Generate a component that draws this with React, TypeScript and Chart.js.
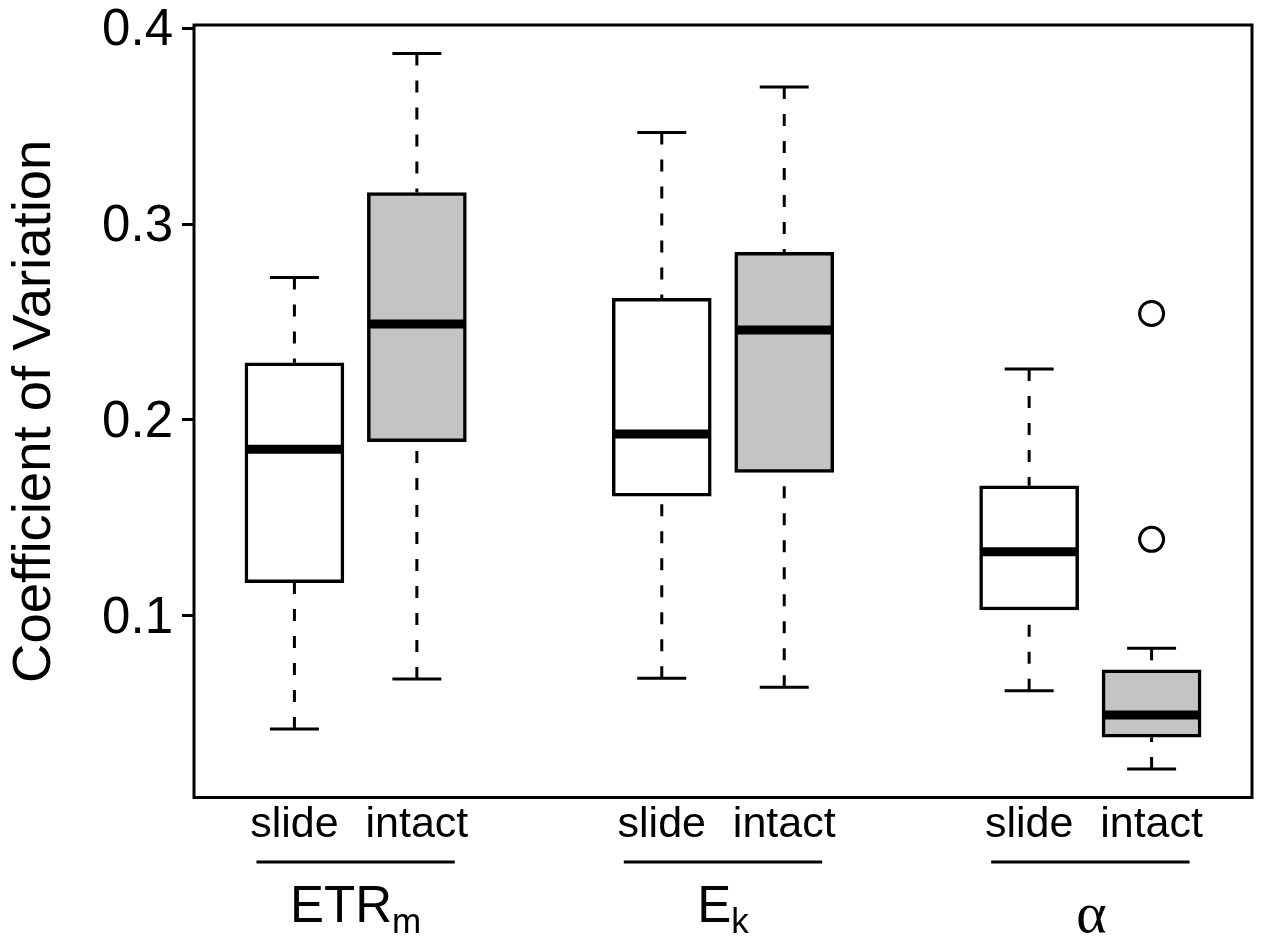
import React, { useEffect, useRef } from "react";
import { Chart, registerables } from "chart.js";

Chart.register(...registerables);

// ---- data ----
const treatments = ["slide", "intact", "slide", "intact", "slide", "intact"];
const positions = [1, 2, 4, 5, 7, 8];
const boxFills = ["#ffffff", "#c4c4c4", "#ffffff", "#c4c4c4", "#ffffff", "#c4c4c4"];
const whiskerLow = [0.042, 0.0676, 0.0679, 0.0633, 0.0616, 0.0216];
const q1 = [0.1168, 0.1888, 0.161, 0.1731, 0.1028, 0.0378];
const medians = [0.1849, 0.2489, 0.1927, 0.2458, 0.1326, 0.0492];
const q3 = [0.2291, 0.3161, 0.262, 0.2855, 0.1663, 0.0722];
const whiskerHigh = [0.2727, 0.3871, 0.3468, 0.37, 0.2259, 0.0832];
const outlierX = [8, 8];
const outlierY = [0.2543, 0.1389];
const groupMain = ["ETR", "E", "α"];
const groupSub = ["m", "k", ""];
const yTicks = [0.1, 0.2, 0.3, 0.4];
const yTitle = "Coefficient of Variation";

const SANS = '"Liberation Sans", Arial, Helvetica, sans-serif';
const SERIF = '"Liberation Serif", "Times New Roman", serif';

const boxExtras = {
  id: "boxExtras",
  beforeDatasetsDraw(chart: any) {
    const { ctx, scales } = chart;
    const xs = scales.x;
    const ys = scales.y;
    const unit = xs.getPixelForValue(1) - xs.getPixelForValue(0);
    const capHalf = unit * 0.2;
    ctx.save();
    ctx.strokeStyle = "#000";
    ctx.lineWidth = 3;
    ctx.lineCap = "butt";
    for (let i = 0; i < positions.length; i++) {
      const x = xs.getPixelForValue(positions[i]);
      const yl = ys.getPixelForValue(whiskerLow[i]);
      const yq1 = ys.getPixelForValue(q1[i]);
      const yq3 = ys.getPixelForValue(q3[i]);
      const yh = ys.getPixelForValue(whiskerHigh[i]);
      ctx.setLineDash([12, 15]);
      ctx.beginPath();
      ctx.moveTo(x, yh);
      ctx.lineTo(x, yq3);
      ctx.stroke();
      ctx.beginPath();
      ctx.moveTo(x, yl);
      ctx.lineTo(x, yq1);
      ctx.stroke();
      ctx.setLineDash([]);
      ctx.beginPath();
      ctx.moveTo(x - capHalf, yh);
      ctx.lineTo(x + capHalf, yh);
      ctx.moveTo(x - capHalf, yl);
      ctx.lineTo(x + capHalf, yl);
      ctx.stroke();
    }
    ctx.restore();
  },
  afterDatasetsDraw(chart: any) {
    const { ctx, scales } = chart;
    const xs = scales.x;
    const ys = scales.y;
    const unit = xs.getPixelForValue(1) - xs.getPixelForValue(0);
    const half = unit * 0.4;
    ctx.save();
    ctx.strokeStyle = "#000";
    ctx.lineWidth = 9;
    ctx.lineCap = "butt";
    for (let i = 0; i < positions.length; i++) {
      const x = xs.getPixelForValue(positions[i]);
      const ym = ys.getPixelForValue(medians[i]);
      ctx.beginPath();
      ctx.moveTo(x - half + 1.5, ym);
      ctx.lineTo(x + half - 1.5, ym);
      ctx.stroke();
    }
    ctx.restore();
  },
  afterDraw(chart: any) {
    const { ctx, scales, chartArea } = chart;
    const xs = scales.x;
    const unit = xs.getPixelForValue(1) - xs.getPixelForValue(0);
    ctx.save();
    // plot frame
    ctx.strokeStyle = "#000";
    ctx.lineWidth = 3;
    ctx.strokeRect(chartArea.left, chartArea.top, chartArea.right - chartArea.left, chartArea.bottom - chartArea.top);

    // y title
    ctx.fillStyle = "#000";
    ctx.save();
    ctx.translate(50, (chartArea.top + chartArea.bottom) / 2);
    ctx.rotate(-Math.PI / 2);
    ctx.font = `54.5px ${SANS}`;
    ctx.textAlign = "center";
    ctx.textBaseline = "alphabetic";
    ctx.fillText(yTitle, 0, 0);
    ctx.restore();

    // treatment labels
    ctx.font = `43px ${SANS}`;
    ctx.textAlign = "center";
    ctx.textBaseline = "alphabetic";
    for (let i = 0; i < positions.length; i++) {
      ctx.fillText(treatments[i], xs.getPixelForValue(positions[i]), 837);
    }

    // group underlines & labels
    for (let g = 0; g < groupMain.length; g++) {
      const c = (xs.getPixelForValue(positions[2 * g]) + xs.getPixelForValue(positions[2 * g + 1])) / 2;
      const hl = unit * 0.81;
      ctx.beginPath();
      ctx.moveTo(c - hl, 862);
      ctx.lineTo(c + hl, 862);
      ctx.stroke();

      ctx.textAlign = "left";
      if (groupSub[g]) {
        const mainFont = `51px ${SANS}`;
        const subFont = `35px ${SANS}`;
        ctx.font = mainFont;
        const wm = ctx.measureText(groupMain[g]).width;
        ctx.font = subFont;
        const ws = ctx.measureText(groupSub[g]).width;
        const start = c - (wm + ws) / 2;
        ctx.font = mainFont;
        ctx.fillText(groupMain[g], start, 922);
        ctx.font = subFont;
        ctx.fillText(groupSub[g], start + wm, 933);
      } else {
        ctx.font = `58px ${SERIF}`;
        ctx.textAlign = "center";
        ctx.fillText(groupMain[g], c + 1, 932);
      }
    }
    ctx.restore();
  },
};

export default function App() {
  const ref = useRef<HTMLCanvasElement | null>(null);
  useEffect(() => {
    if (!ref.current) return;
    const chart = new Chart(ref.current, {
      type: "bar",
      data: {
        datasets: [
          {
            type: "bar",
            data: positions.map((p, i) => ({ x: p, y: [q1[i], q3[i]] })) as any,
            backgroundColor: boxFills,
            borderColor: "#000",
            borderWidth: 3.5,
            borderSkipped: false,
            barThickness: 99,
          } as any,
          {
            type: "scatter",
            data: outlierX.map((x, i) => ({ x, y: outlierY[i] })),
            pointStyle: "circle",
            pointRadius: 12,
            pointBorderWidth: 3,
            pointBorderColor: "#000",
            pointBackgroundColor: "rgba(0,0,0,0)",
            showLine: false,
          } as any,
        ],
      },
      options: {
        animation: false,
        responsive: false,
        maintainAspectRatio: false,
        events: [],
        layout: { autoPadding: false, padding: { left: 0, top: 25, right: 10, bottom: 144.5 } },
        plugins: { legend: { display: false }, tooltip: { enabled: false } },
        scales: {
          x: {
            type: "linear",
            min: 0.18,
            max: 8.82,
            offset: false,
            display: false,
          },
          y: {
            type: "linear",
            min: 0.007,
            max: 0.4017,
            border: { display: false },
            grid: {
              drawOnChartArea: false,
              drawTicks: true,
              tickLength: 12,
              lineWidth: 3,
              color: "#000",
            },
            ticks: {
              color: "#000",
              font: { family: SANS, size: 51 },
              padding: 9,
              labelOffset: 3,
              callback: (v: any) => Number(v).toFixed(1),
            },
            afterBuildTicks: (scale: any) => {
              scale.ticks = yTicks.map((v) => ({ value: v }));
            },
            afterFit: (scale: any) => {
              scale.width = 194;
              scale.paddingTop = 0;
              scale.paddingBottom = 0;
            },
          },
        },
      },
      plugins: [boxExtras],
    } as any);
    return () => chart.destroy();
  }, []);
  return (
    <div style={{ position: "fixed", left: 0, top: 0, width: 1262, height: 942, background: "#fff" }}>
      <canvas ref={ref} width={1262} height={942} style={{ display: "block" }} />
    </div>
  );
}
